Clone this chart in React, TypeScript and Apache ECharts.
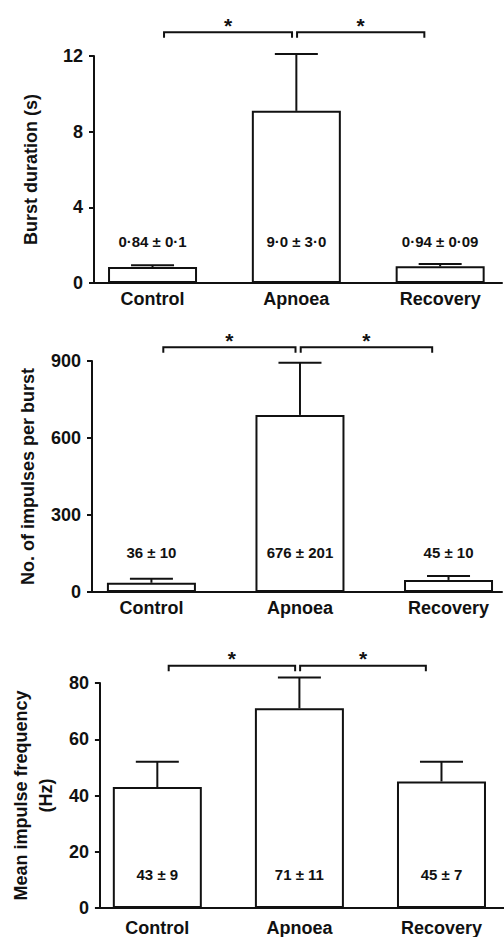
import React, { useEffect, useRef } from "react";
import * as echarts from "echarts";

// ---------- data ----------
const categories = ["Control", "Apnoea", "Recovery"];

const burstDuration = [0.84, 9.1, 0.88];
const burstDurationErr = [0.1, 3.0, 0.12];
const burstDurationLabels = ["0·84 ± 0·1", "9·0 ± 3·0", "0·94 ± 0·09"];
const burstDurationTicks = [0, 4, 8, 12];

const impulsesPerBurst = [36, 690, 47];
const impulsesPerBurstErr = [16, 203, 15];
const impulsesPerBurstLabels = ["36 ± 10", "676 ± 201", "45 ± 10"];
const impulsesPerBurstTicks = [0, 300, 600, 900];

const meanFrequency = [43, 71, 45];
const meanFrequencyErr = [9, 11, 7];
const meanFrequencyLabels = ["43 ± 9", "71 ± 11", "45 ± 7"];
const meanFrequencyTicks = [0, 20, 40, 60, 80];

// pairs of categories compared (both significant)
const comparisons = [
  [0, 1],
  [1, 2],
];
const comparisonMarks = ["*", "*"];

// ---------- layout ----------
const FONT = '"Liberation Sans", Arial, Helvetica, sans-serif';
const INK = "#111111";
const bracketInsets = [
  [0.08, -0.03],
  [0.005, -0.11],
];

const panels = [
  {
    title: "Burst duration (s)",
    values: burstDuration,
    errs: burstDurationErr,
    labels: burstDurationLabels,
    ticks: burstDurationTicks,
    grid: { left: 94, top: 56, width: 408, height: 227 },
    xMin: -0.407,
    xMax: 2.43,
    labelY: 2.17,
    bracketY: 13.25,
    nameGap: 51,
    xLabelMargin: 7,
  },
  {
    title: "No. of impulses per burst",
    values: impulsesPerBurst,
    errs: impulsesPerBurstErr,
    labels: impulsesPerBurstLabels,
    ticks: impulsesPerBurstTicks,
    grid: { left: 92, top: 361, width: 410, height: 231 },
    xMin: -0.4,
    xMax: 2.36,
    labelY: 153,
    bracketY: 954,
    nameGap: 49,
    xLabelMargin: 7,
  },
  {
    title: "Mean impulse frequency\n(Hz)",
    values: meanFrequency,
    errs: meanFrequencyErr,
    labels: meanFrequencyLabels,
    ticks: meanFrequencyTicks,
    grid: { left: 98, top: 683, width: 406, height: 226 },
    xMin: -0.404,
    xMax: 2.44,
    labelY: 11.8,
    bracketY: 86.1,
    nameGap: 40,
    xLabelMargin: 11,
  },
];

function buildOption() {
  const grid: any[] = [];
  const xAxis: any[] = [];
  const yAxis: any[] = [];
  const series: any[] = [];

  panels.forEach((p, i) => {
    grid.push({ ...p.grid, containLabel: false });
    const ticks = p.ticks;
    const interval = ticks[1] - ticks[0];
    xAxis.push({
      type: "value",
      gridIndex: i,
      min: p.xMin,
      max: p.xMax,
      splitLine: { show: false },
      axisTick: { show: false },
      axisLine: { show: true, onZero: false, lineStyle: { color: INK, width: 2 } },
      axisLabel: {
        show: true,
        customValues: categories.map((_, j) => j),
        formatter: (v: number) => categories[Math.round(v)] ?? "",
        color: INK,
        fontFamily: FONT,
        fontSize: 18,
        fontWeight: "bold",
        margin: p.xLabelMargin,
      },
    });
    yAxis.push({
      type: "value",
      gridIndex: i,
      min: ticks[0],
      max: ticks[ticks.length - 1],
      interval,
      splitLine: { show: false },
      axisLine: { show: true, onZero: false, lineStyle: { color: INK, width: 2 } },
      axisTick: { show: true, length: 5, lineStyle: { color: INK, width: 2 } },
      axisLabel: {
        color: INK,
        fontFamily: FONT,
        fontSize: 18,
        fontWeight: "bold",
        margin: 11,
      },
      name: p.title,
      nameLocation: "middle",
      nameRotate: 90,
      nameGap: p.nameGap,
      nameTextStyle: {
        color: INK,
        fontFamily: FONT,
        fontSize: 18,
        fontWeight: "bold",
        lineHeight: 25,
      },
    });

    // bars
    series.push({
      type: "bar",
      xAxisIndex: i,
      yAxisIndex: i,
      barWidth: 89,
      data: p.values.map((v, j) => [j, v]),
      itemStyle: { color: "#ffffff", borderColor: INK, borderWidth: 2 },
      z: 2,
    });

    // error bars (upper only)
    series.push({
      type: "custom",
      xAxisIndex: i,
      yAxisIndex: i,
      clip: false,
      z: 3,
      encode: { x: 0, y: [1, 2] },
      data: p.values.map((v, j) => [j, v, v + p.errs[j]]),
      renderItem: (params: any, api: any) => {
        const x = api.value(0);
        const lo = api.coord([x, api.value(1)]);
        const hi = api.coord([x, api.value(2)]);
        const st = { stroke: INK, lineWidth: 2, fill: "none" };
        return {
          type: "group",
          children: [
            { type: "line", shape: { x1: lo[0], y1: lo[1], x2: hi[0], y2: hi[1] }, style: st },
            { type: "line", shape: { x1: hi[0] - 21.5, y1: hi[1], x2: hi[0] + 21.5, y2: hi[1] }, style: st },
          ],
        };
      },
    });

    // mean ± SEM labels
    series.push({
      type: "custom",
      xAxisIndex: i,
      yAxisIndex: i,
      clip: false,
      z: 4,
      encode: { x: 0, y: 1 },
      data: p.labels.map((_, j) => [j, p.labelY]),
      renderItem: (params: any, api: any) => {
        const pt = api.coord([api.value(0), api.value(1)]);
        return {
          type: "text",
          x: pt[0],
          y: pt[1],
          style: {
            text: p.labels[params.dataIndex],
            fill: INK,
            fontFamily: FONT,
            fontSize: 15,
            fontWeight: "bold",
            align: "center",
            verticalAlign: "middle",
          },
        };
      },
    });

    // significance brackets
    series.push({
      type: "custom",
      xAxisIndex: i,
      yAxisIndex: i,
      clip: false,
      z: 4,
      silent: true,
      encode: { x: [0, 1] },
      data: comparisons.map((c, k) => [c[0] + bracketInsets[k][0], c[1] + bracketInsets[k][1]]),
      renderItem: (params: any, api: any) => {
        const a = api.coord([api.value(0), p.bracketY]);
        const b = api.coord([api.value(1), p.bracketY]);
        const drop = 5.5;
        return {
          type: "group",
          children: [
            {
              type: "polyline",
              shape: {
                points: [
                  [a[0], a[1] + drop],
                  [a[0], a[1]],
                  [b[0], b[1]],
                  [b[0], b[1] + drop],
                ],
              },
              style: { stroke: INK, lineWidth: 2, fill: "none" },
            },
            {
              type: "text",
              x: (a[0] + b[0]) / 2,
              y: a[1] - 7,
              style: {
                text: comparisonMarks[params.dataIndex],
                fill: INK,
                fontFamily: FONT,
                fontSize: 21,
                fontWeight: "bold",
                align: "center",
                verticalAlign: "middle",
              },
            },
          ],
        };
      },
    });
  });

  return {
    animation: false,
    backgroundColor: "#ffffff",
    grid,
    xAxis,
    yAxis,
    series,
  };
}

export default function App() {
  const ref = useRef<HTMLDivElement>(null);
  useEffect(() => {
    if (!ref.current) return;
    const chart = echarts.init(ref.current, undefined, { renderer: "svg" });
    chart.setOption(buildOption() as any);
    return () => chart.dispose();
  }, []);
  return (
    <div
      ref={ref}
      style={{ position: "absolute", left: 0, top: 0, width: 504, height: 937, background: "#fff" }}
    />
  );
}
